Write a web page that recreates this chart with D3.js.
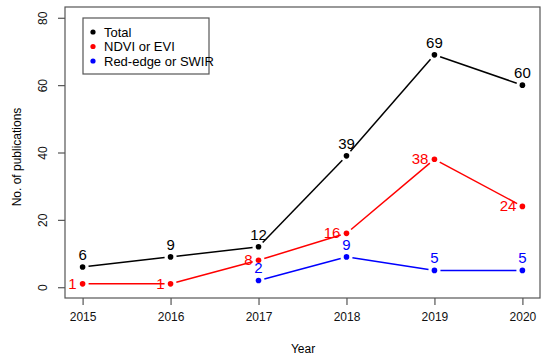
<!DOCTYPE html>
<html>
<head>
<meta charset="utf-8">
<script src="https://cdn.jsdelivr.net/npm/d3@7"></script>
<style>
  body { margin: 0; background: #fff; }
  text { font-family: "Liberation Sans", Arial, sans-serif; }
</style>
</head>
<body>
<svg id="chart" width="550" height="362"></svg>
<script>
var years = [2015, 2016, 2017, 2018, 2019, 2020];
var total = [6, 9, 12, 39, 69, 60];
var ndvi = [1, 1, 8, 16, 38, 24];
var rededge = [null, null, 2, 9, 5, 5];
var yTicks = [0, 20, 40, 60, 80];

var svg = d3.select("#chart"),
    margin = {top: 7, right: 10, bottom: 64, left: 65},
    width = +svg.attr("width") - margin.left - margin.right,
    height = +svg.attr("height") - margin.top - margin.bottom;

// R style 4% axis extension
var x = d3.scaleLinear().domain([2014.8, 2020.2]).range([margin.left, margin.left + width]);
var y = d3.scaleLinear().domain([-3.2, 83.2]).range([margin.top + height, margin.top]);

var axisCol = "#555";

svg.append("rect")
    .attr("x", margin.left).attr("y", margin.top)
    .attr("width", width).attr("height", height)
    .attr("fill", "none").attr("stroke", axisCol).attr("stroke-width", 1.2);

var xAxis = svg.append("g")
    .attr("transform", "translate(0," + (margin.top + height) + ")")
    .call(d3.axisBottom(x).tickValues(years).tickFormat(d3.format("d")).tickSize(7).tickPadding(7));
xAxis.select(".domain").remove();

var yAxis = svg.append("g")
    .attr("transform", "translate(" + margin.left + ",0)")
    .call(d3.axisLeft(y).tickValues(yTicks).tickSize(7).tickPadding(0));
yAxis.select(".domain").remove();
yAxis.selectAll("text")
    .attr("transform", "translate(-22,0) rotate(-90)")
    .attr("x", 0).attr("y", 0).attr("dy", "0.35em")
    .style("text-anchor", "middle");

[xAxis, yAxis].forEach(function (a) {
  a.selectAll("line").attr("stroke", axisCol).attr("stroke-width", 1.2);
  a.selectAll("text").attr("fill", "#111").style("font-size", "12px");
});

svg.append("text")
    .attr("x", 303).attr("y", 353)
    .attr("text-anchor", "middle")
    .style("font-size", "12px").text("Year");

svg.append("text")
    .attr("transform", "translate(21,157) rotate(-90)")
    .attr("text-anchor", "middle")
    .style("font-size", "12px").text("No. of publications");

function drawSeries(vals, color, labelPos) {
  var pts = years.map(function (yr, i) { return {yr: yr, v: vals[i]}; })
      .filter(function (d) { return d.v !== null; });
  var segs = d3.pairs(pts);
  var gap = 6;
  svg.append("g").selectAll("line")
      .data(segs).enter().append("line")
      .each(function (s) {
        var x1 = x(s[0].yr), y1 = y(s[0].v), x2 = x(s[1].yr), y2 = y(s[1].v);
        var len = Math.hypot(x2 - x1, y2 - y1), ux = (x2 - x1) / len, uy = (y2 - y1) / len;
        d3.select(this)
            .attr("x1", x1 + ux * gap).attr("y1", y1 + uy * gap)
            .attr("x2", x2 - ux * gap).attr("y2", y2 - uy * gap);
      })
      .attr("stroke", color).attr("stroke-width", 1.5);
  svg.append("g").selectAll("circle")
      .data(pts).enter().append("circle")
      .attr("cx", function (d) { return x(d.yr); })
      .attr("cy", function (d) { return y(d.v); })
      .attr("r", 2.8).attr("fill", color);
  svg.append("g").selectAll("text")
      .data(pts).enter().append("text")
      .attr("x", function (d) { return labelPos === "left" ? x(d.yr) - 6 : x(d.yr); })
      .attr("y", function (d) { return labelPos === "left" ? y(d.v) + 5 : y(d.v) - 7; })
      .attr("text-anchor", labelPos === "left" ? "end" : "middle")
      .attr("fill", color)
      .style("font-size", "15px")
      .text(function (d) { return d.v; });
}

drawSeries(total, "#000", "top");
drawSeries(ndvi, "#ff0000", "left");
drawSeries(rededge, "#0000ff", "top");

// legend
var legendItems = ["Total", "NDVI or EVI", "Red-edge or SWIR"];
var legendCols = ["#000", "#ff0000", "#0000ff"];
var lg = svg.append("g");
lg.append("rect")
    .attr("x", 83).attr("y", 18).attr("width", 126).attr("height", 56)
    .attr("fill", "#fff").attr("stroke", axisCol).attr("stroke-width", 1.2);
var li = lg.selectAll("g.item").data(legendItems).enter().append("g")
    .attr("transform", function (d, i) { return "translate(93," + (32 + i * 14.5) + ")"; });
li.append("circle").attr("r", 2.6).attr("fill", function (d, i) { return legendCols[i]; });
li.append("text").attr("x", 11).attr("dy", "0.35em")
    .style("font-size", "13px").text(function (d) { return d; });
</script>
</body>
</html>
